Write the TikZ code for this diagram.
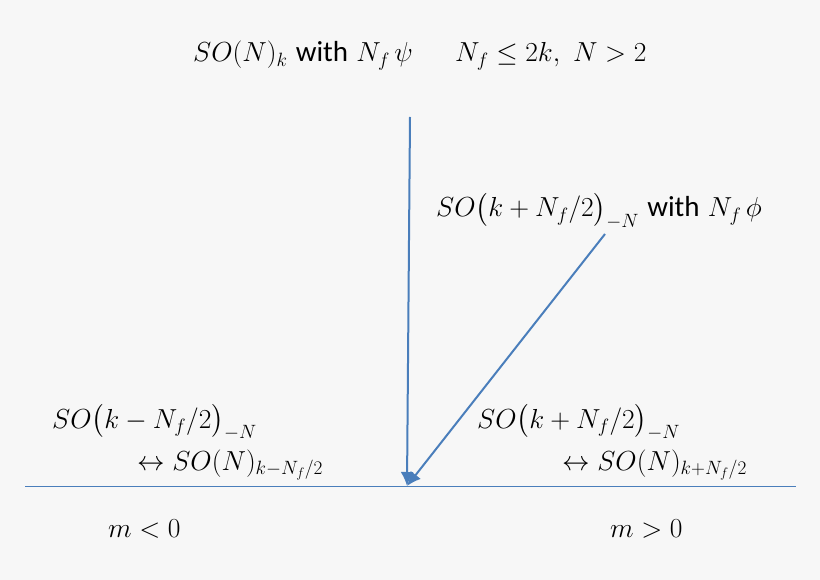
\RequirePackage{fix-cm}
\documentclass[tikz,border=0pt]{standalone}
\usepackage{fontspec}
\newfontfamily\withfont{Carlito}
\usepackage{amsmath,amssymb}
\usetikzlibrary{arrows.meta,positioning}
\definecolor{lineblue}{HTML}{4A7EBB}
\definecolor{bgcol}{HTML}{F7F7F7}
\newcommand{\With}{\text{\withfont\fontsize{29}{34}\selectfont with}}
\tikzset{lbl/.style={anchor=base west,inner sep=0pt,font=\fontsize{27.5}{33}\selectfont}}
\tikzset{flow/.style={-{Latex[length=14pt,width=13pt]},lineblue,line width=2pt}}

\begin{document}
\begin{tikzpicture}[x=1pt,y=-1pt]
\fill[bgcol] (0,0) rectangle (820,580);
% \draw[help lines] (0,0) grid (820,580);
\node (top) [lbl] at (193,62) {$SO(N)_k$ \With{} $N_f\,\psi$};
\node (cond) [lbl] at (455,62) {$N_f\le 2k,\ N>2$};
\node (mid) [lbl] at (436,217) {$SO\bigl(k+N_f/2\bigr)_{-N}$ \With{} $N_f\,\phi$};
\node (la) [lbl] at (52,428) {$SO\bigl(k-N_f/2\bigr)_{-N}$};
\node (lb) [lbl] at (137,470) {$\leftrightarrow SO(N)_{k-N_f/2}$};
\node (ra) [lbl] at (477,428) {$SO\bigl(k+N_f/2\bigr)_{-N}$};
\node (rb) [lbl] at (562,470) {$\leftrightarrow SO(N)_{k+N_f/2}$};
\node (mneg) [lbl] at (108,537) {$m<0$};
\node (mpos) [lbl] at (610,537) {$m>0$};
%
\coordinate (w) at (25,486);
\coordinate (e) at (796,486);
\coordinate (vtop) at (410,117);
\coordinate (dtop) at (605,234);
\coordinate (tip) at (407,486);
\draw[lineblue,line width=1pt] (w) -- (e);
\draw[flow] (vtop) -- (tip);
\draw[flow] (dtop) -- (tip);
\end{tikzpicture}
\end{document}
